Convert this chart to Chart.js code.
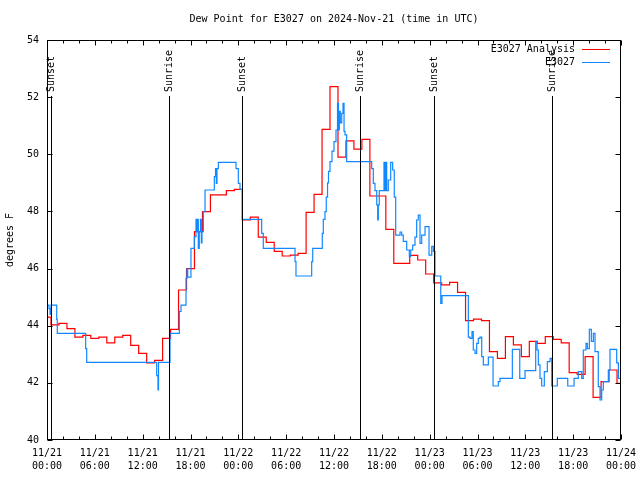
<!DOCTYPE html>
<html>
<head>
<meta charset="utf-8">
<script src="https://cdn.jsdelivr.net/npm/chart.js@4.4.1/dist/chart.umd.min.js"></script>
<style>
  body { margin: 0; background: #fff; }
</style>
</head>
<body>
<canvas id="myChart" width="640" height="480"></canvas>
<script>
// hours since 11/21 00:00 UTC, values in degrees F
const analysisHours = [0, 0.5, 1.5, 2.5, 3.5, 4.5, 5.5, 6.5, 7.5, 8.5, 9.5, 10.5, 11.5, 12.5, 13.5, 14.5,
    15.5, 16.5, 17.5, 18.5, 19.5, 20.5, 21.5, 22.5, 23.5, 24.5, 25.5, 26.5, 27.5, 28.5, 29.5, 30.5,
    31.5, 32.5, 33.5, 34.5, 35.5, 36.5, 37.5, 38.5, 39.5, 40.5, 41.5, 42.5, 43.5, 44.5, 45.5, 46.5,
    47.5, 48.5, 49.5, 50.5, 51.5, 52.5, 53.5, 54.5, 55.5, 56.5, 57.5, 58.5, 59.5, 60.5, 61.5, 62.5,
    63.5, 64.5, 65.5, 66.5, 67.5, 68.5, 69.5, 70.5, 71.5, 72];
const analysisValues = [44.3, 44.03, 44.08, 43.9, 43.6, 43.66, 43.56, 43.6, 43.4, 43.6,
    43.66, 43.31, 43.03, 42.7, 42.79, 43.56, 43.87, 45.25, 46.0, 47.29,
    47.99, 48.58, 48.58, 48.73, 48.77, 47.7, 47.8, 47.1, 46.92, 46.6,
    46.44, 46.47, 46.53, 47.97, 48.6, 50.87, 52.37, 49.9, 50.47, 50.18,
    50.52, 48.54, 48.54, 47.37, 46.18, 46.18, 46.46, 46.3, 45.81, 45.5,
    45.43, 45.52, 45.17, 44.18, 44.23, 44.18, 43.09, 42.86, 43.62, 43.33,
    42.92, 43.45, 43.38, 43.62, 43.52, 43.4, 42.36, 42.3, 42.92, 41.49,
    42.04, 42.45, 41.98, 41.98];

const stationHours = [0, 0.25, 0.38, 0.5, 1.22, 1.29, 4.85, 4.98, 13.76, 13.92, 13.99, 15.43,
    16.6, 16.81, 17.44, 17.56, 17.65, 18.06, 18.48, 18.69, 18.82, 18.9, 18.98, 19.1, 19.25, 19.36,
    19.44, 19.61, 19.82, 20.99, 21.14, 21.24, 21.32, 21.49, 23.71, 24.0, 24.21, 24.5, 26.93, 27.13,
    31.11, 31.23, 33.2, 33.33, 34.53, 34.66, 34.87, 35.03, 35.19, 35.31, 35.5, 35.75, 36.0, 36.25,
    36.44, 36.56, 36.67, 36.79, 36.97, 37.13, 37.26, 37.38, 37.59, 40.73, 40.93, 41.14, 41.36, 41.48,
    41.56, 41.68, 42.27, 42.4, 42.49, 42.61, 42.81, 43.11, 43.36, 43.56, 43.74, 44.28, 44.49, 44.69,
    45.12, 45.45, 45.62, 45.87, 46.16, 46.37, 46.57, 46.79, 47.0, 47.42, 47.92, 48.26, 48.46, 48.67,
    49.39, 49.55, 52.85, 53.06, 53.31, 53.47, 53.69, 53.9, 54.1, 54.31, 54.53, 54.73, 55.36, 55.95,
    56.61, 56.82, 58.37, 59.3, 59.96, 61.3, 61.47, 61.63, 61.84, 62.05, 62.38, 62.76, 63.1, 63.31,
    64.01, 65.32, 66.11, 66.64, 67.07, 67.27, 67.61, 67.78, 68.03, 68.28, 68.53, 68.74, 69.15, 69.37,
    69.58, 69.78, 70.41, 70.62, 71.46, 71.67, 72];
const stationValues = [44.72, 44.6, 44.4, 44.72, 44.22, 43.73, 43.2, 42.72, 42.25, 41.75, 42.72, 43.73,
    44.5, 44.72, 45.66, 46.0, 45.7, 46.71, 47.12, 47.72, 47.29, 47.72, 46.71, 47.29, 47.72, 46.9,
    47.29, 47.99, 48.75, 49.22, 49.5, 48.98, 49.5, 49.72, 49.5, 48.98, 48.77, 47.72, 47.23, 46.71,
    46.24, 45.74, 46.24, 46.71, 47.23, 47.72, 47.99, 48.5, 49.0, 49.4, 49.74, 50.11, 50.44, 50.85,
    51.78, 50.85, 51.5, 51.1, 51.43, 51.78, 50.8, 50.68, 49.74, 49.5, 48.98, 48.73, 48.23, 47.7,
    48.23, 48.73, 49.72, 48.73, 49.72, 48.73, 49.1, 49.72, 49.45, 48.5, 47.17, 47.28, 47.17, 46.95,
    46.65, 46.42, 46.65, 46.82, 47.1, 47.7, 47.87, 46.88, 47.17, 47.47, 46.47, 46.78, 46.6, 45.74,
    44.78, 45.05, 43.6, 43.56, 43.79, 43.15, 43.03, 43.38, 43.56, 43.6, 42.92, 42.63, 42.9, 41.89,
    42.04, 42.16, 43.17, 42.16, 42.43, 43.45, 43.15, 42.63, 42.16, 41.89, 42.39, 42.74, 42.86, 41.89,
    42.16, 41.89, 42.16, 42.39, 42.16, 43.15, 43.38, 43.2, 43.87, 43.45, 43.73, 43.09, 41.87, 41.4,
    41.75, 42.04, 42.45, 43.17, 42.7, 42.16, 42.16];

const sunEventHours = [0.5, 15.34, 24.52, 39.28, 48.54, 63.38];
const sunEventNames = ['Sunset', 'Sunrise', 'Sunset', 'Sunrise', 'Sunset', 'Sunrise'];

const xTickLabels = [
    ['11/21', '00:00'], ['11/21', '06:00'], ['11/21', '12:00'], ['11/21', '18:00'],
    ['11/22', '00:00'], ['11/22', '06:00'], ['11/22', '12:00'], ['11/22', '18:00'],
    ['11/23', '00:00'], ['11/23', '06:00'], ['11/23', '12:00'], ['11/23', '18:00'],
    ['11/24', '00:00']
];

const FONT = "'DejaVu Sans Mono', 'Liberation Mono', monospace";

// border, inward tics, sunrise/sunset markers and the key, gnuplot style
const gnuplotFrame = {
    id: 'gnuplotFrame',
    afterDatasetsDraw(chart) {
        const ctx = chart.ctx;
        const area = chart.chartArea;
        const xs = chart.scales.x;
        const ys = chart.scales.y;
        ctx.save();

        // sunrise / sunset lines
        ctx.strokeStyle = '#000';
        ctx.lineWidth = 1;
        ctx.fillStyle = '#000';
        ctx.font = '10px ' + FONT;
        sunEventHours.forEach((h, i) => {
            const x = Math.round(xs.getPixelForValue(h)) + 0.5;
            ctx.beginPath();
            ctx.moveTo(x, 96);
            ctx.lineTo(x, area.bottom);
            ctx.stroke();
            ctx.save();
            ctx.translate(x, 92);
            ctx.rotate(-Math.PI / 2);
            ctx.textAlign = 'left';
            ctx.textBaseline = 'middle';
            ctx.fillText(sunEventNames[i], 0, 0);
            ctx.restore();
        });

        // frame
        const l = Math.round(area.left) + 0.5;
        const r = Math.round(area.right) - 0.5;
        const t = Math.round(area.top) + 0.5;
        const b = Math.round(area.bottom) - 0.5;
        ctx.strokeRect(l, t, r - l, b - t);

        // tics
        ctx.beginPath();
        ys.ticks.forEach(tk => {
            const y = Math.round(ys.getPixelForValue(tk.value)) + 0.5;
            ctx.moveTo(l, y); ctx.lineTo(l + 5, y);
            ctx.moveTo(r, y); ctx.lineTo(r - 5, y);
        });
        for (let h = xs.min; h <= xs.max; h += 2) {
            const x = Math.round(xs.getPixelForValue(h)) + 0.5;
            const len = h % 6 === 0 ? 5 : 3;
            ctx.moveTo(x, b); ctx.lineTo(x, b - len);
            ctx.moveTo(x, t); ctx.lineTo(x, t + len);
        }
        ctx.stroke();

        // key
        const rows = [49, 62];
        chart.data.datasets.forEach((ds, i) => {
            ctx.fillStyle = '#000';
            ctx.textAlign = 'right';
            ctx.textBaseline = 'middle';
            ctx.fillText(ds.label, 575, rows[i]);
            ctx.strokeStyle = ds.borderColor;
            ctx.beginPath();
            ctx.moveTo(582, rows[i] + 0.5);
            ctx.lineTo(610, rows[i] + 0.5);
            ctx.stroke();
        });

        ctx.restore();
    }
};

const ctx = document.getElementById('myChart').getContext('2d');

new Chart(ctx, {
    type: 'line',
    data: {
        datasets: [{
            label: 'E3027 Analysis',
            data: analysisHours.map((h, i) => ({x: h, y: analysisValues[i]})),
            borderColor: '#ff0000',
            borderWidth: 1.2,
            pointRadius: 0,
            stepped: true,
            order: 2
        }, {
            label: 'E3027',
            data: stationHours.map((h, i) => ({x: h, y: stationValues[i]})),
            borderColor: '#1188ff',
            borderWidth: 1.2,
            pointRadius: 0,
            stepped: true,
            order: 1
        }]
    },
    options: {
        responsive: false,
        animation: false,
        events: [],
        layout: {
            autoPadding: false,
            padding: {left: 0, right: 19, top: 0, bottom: 0}
        },
        scales: {
            x: {
                type: 'linear',
                min: 0,
                max: 72,
                grid: {display: false, drawTicks: false},
                border: {display: false},
                ticks: {
                    stepSize: 6,
                    autoSkip: false,
                    maxRotation: 0,
                    padding: 7,
                    color: '#000',
                    font: {family: FONT, size: 10, lineHeight: 1.3},
                    callback: (value) => xTickLabels[value / 6]
                },
                afterFit: (scale) => {
                    scale.height = 40;
                    scale.paddingLeft = 0;
                    scale.paddingRight = 0;
                }
            },
            y: {
                min: 40,
                max: 54,
                grid: {display: false, drawTicks: false},
                border: {display: false},
                ticks: {
                    stepSize: 2,
                    padding: 8,
                    color: '#000',
                    font: {family: FONT, size: 10}
                },
                title: {
                    display: true,
                    text: 'degrees F',
                    color: '#000',
                    padding: {top: 4, bottom: 0},
                    font: {family: FONT, size: 10}
                },
                afterFit: (scale) => { scale.width = 47; }
            }
        },
        plugins: {
            legend: {display: false},
            tooltip: {enabled: false},
            title: {
                display: true,
                text: 'Dew Point for E3027 on 2024-Nov-21 (time in UTC)',
                color: '#000',
                fullSize: false,
                padding: {top: 13, bottom: 15},
                font: {family: FONT, size: 10, weight: 'normal', lineHeight: 1.2}
            }
        }
    },
    plugins: [gnuplotFrame]
});
</script>
</body>
</html>
